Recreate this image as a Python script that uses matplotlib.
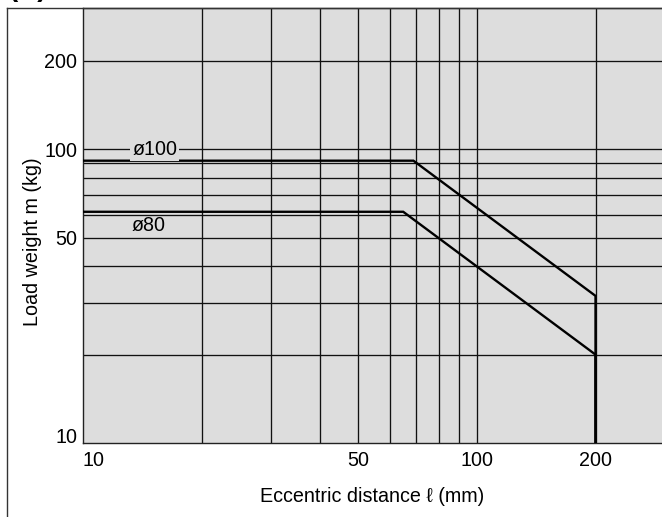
import matplotlib
matplotlib.use("Agg")
import matplotlib.pyplot as plt
from matplotlib.lines import Line2D

plt.rcParams['font.family'] = ['Liberation Sans', 'DejaVu Sans']

# Data
series_names = ["ø100", "ø80"]
x_d100 = [10, 69, 200, 200]
y_d100 = [91.5, 91.5, 31.7, 5]
x_d80 = [10, 65, 200, 200]
y_d80 = [61.3, 61.3, 20.0, 5]

x_grid = [20, 30, 40, 50, 60, 70, 80, 90, 100, 200]
y_grid = [20, 30, 40, 50, 60, 70, 80, 90, 100, 200]
x_ticks = [10, 50, 100, 200]
y_ticks = [10, 50, 100, 200]

FS = 14.2
W, H = 662, 517
fig = plt.figure(figsize=(W / 100, H / 100), dpi=100)
ax = fig.add_axes([83 / W, (H - 443) / H, (W - 83) / W, (443 - 8) / H])
ax.set_facecolor('#dddddd')
ax.set_xscale('log')
ax.set_yscale('log')
ax.set_xlim(10, 295)
ax.set_ylim(10, 303)

for gx in x_grid:
    ax.axvline(gx, color='#111111', lw=0.95, zorder=1)
for gy in y_grid:
    ax.axhline(gy, color='#111111', lw=0.95, zorder=1)

ax.plot(x_d100, y_d100, color='black', lw=1.7, zorder=3, solid_joinstyle='miter')
ax.plot(x_d80, y_d80, color='black', lw=1.7, zorder=3, solid_joinstyle='miter')

ax.text(15.2, 100, series_names[0], fontsize=FS, ha='center', va='center', zorder=4,
        bbox=dict(facecolor='#dddddd', edgecolor='none', pad=1.5))
ax.text(14.7, 55.0, series_names[1], fontsize=FS, ha='center', va='center', zorder=4)

ax.set_xticks(x_ticks)
ax.set_xticklabels([str(t) for t in x_ticks])
ax.set_yticks(y_ticks)
ax.set_yticklabels([str(t) for t in y_ticks])
ax.minorticks_off()
ax.tick_params(axis='both', length=0, labelsize=FS)
ax.tick_params(axis='x', pad=6)
ax.tick_params(axis='y', pad=4)
xl = ax.get_xticklabels()
xl[0].set_horizontalalignment('left')
yl = ax.get_yticklabels()
yl[0].set_verticalalignment('baseline')

for s in ['left', 'bottom', 'top']:
    ax.spines[s].set_linewidth(1.0)
    ax.spines[s].set_color('#222222')
ax.spines['right'].set_visible(False)

ax.set_xlabel('Eccentric distance ℓ (mm)', fontsize=FS, labelpad=12)
ax.set_ylabel('Load weight m (kg)', fontsize=FS)
ax.yaxis.set_label_coords(-41 / (W - 83), 0.462)

# outer frame lines
fig.add_artist(Line2D([7 / W, 7 / W], [0, 1 - 7.5 / H], color='#333333', lw=1.0, transform=fig.transFigure))
fig.add_artist(Line2D([7 / W, 1], [1 - 7.5 / H, 1 - 7.5 / H], color='#333333', lw=1.0, transform=fig.transFigure))
fig.text(9 / W, 1 + 4 / H, '(A)', fontsize=20, fontweight='bold', ha='left', va='baseline')

fig.savefig('out.png', dpi=100)
